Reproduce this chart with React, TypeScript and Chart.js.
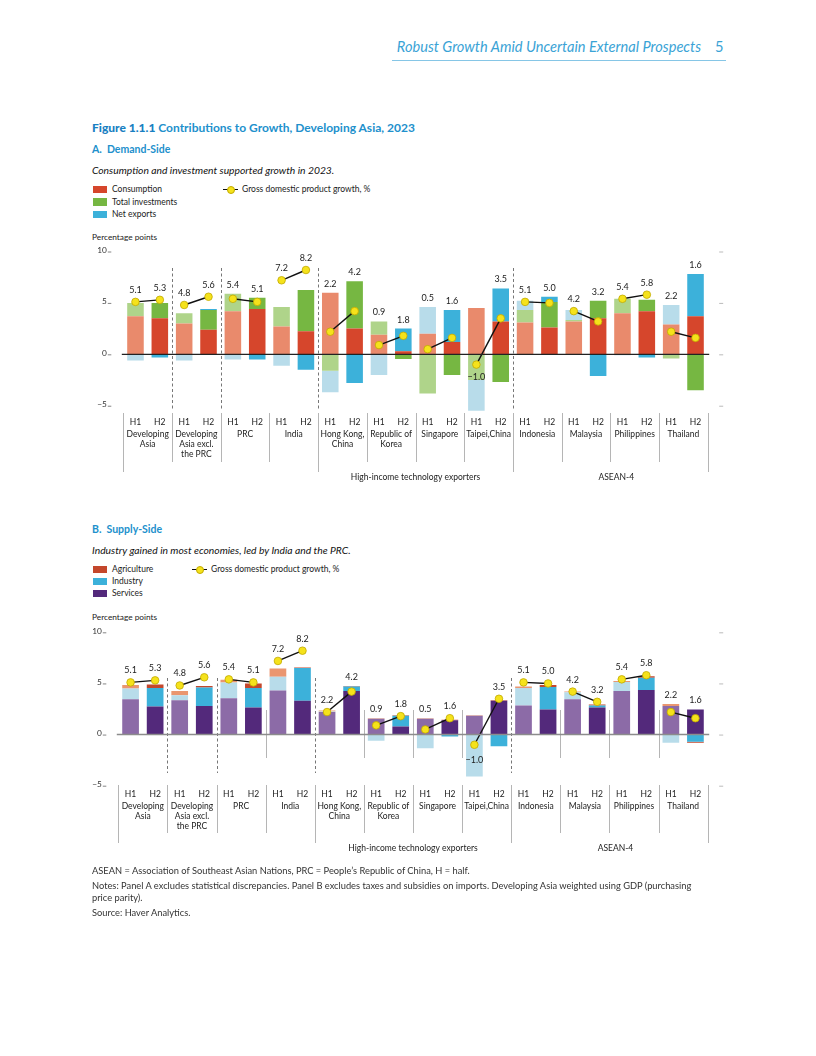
import React, { useEffect, useRef } from "react";
import { Chart, registerables } from "chart.js";

Chart.register(...registerables);

const FONT = 'Lato, "Open Sans", sans-serif';

// ---------- shared categories ----------
const economies: string[][] = [
  ["Developing", "Asia"],
  ["Developing", "Asia excl.", "the PRC"],
  ["PRC"],
  ["India"],
  ["Hong Kong,", "China"],
  ["Republic of", "Korea"],
  ["Singapore"],
  ["Taipei,China"],
  ["Indonesia"],
  ["Malaysia"],
  ["Philippines"],
  ["Thailand"],
];
const halves = ["H1", "H2"];
const barLabels = economies.flatMap((e) => halves.map((h) => e.join(" ") + " " + h));
const groupLabels = ["High-income technology exporters", "ASEAN-4"];
const yTicks = [10, 5, 0, -5];

// ---------- Panel A: demand side ----------
const consumption = [3.7, 3.5, 3.0, 2.4, 4.2, 4.4, 2.7, 2.25, 6.0, 2.5, 1.9, 0.3, 2.0, 1.2, 4.5, 3.2, 3.1, 2.6, 3.2, 3.5, 4.0, 4.2, 2.9, 3.7];
const investment = [1.3, 1.5, 1.0, 1.9, 1.7, 1.1, 1.9, 4.0, -1.6, 4.6, 1.3, -0.45, -3.8, -2.0, -2.5, -2.7, 1.2, 2.5, 0.15, 1.7, 1.4, 1.1, -0.4, -3.5];
const netExports = [-0.6, -0.3, -0.6, 0.1, -0.5, -0.5, -1.1, -1.5, -2.1, -2.8, -2.0, 2.2, 2.6, 3.1, -3.0, 3.2, 0.9, 0.5, 0.95, -2.1, -0.1, -0.3, 1.9, 4.1];
const gdpA = [5.1, 5.3, 4.8, 5.6, 5.4, 5.1, 7.2, 8.2, 2.2, 4.2, 0.9, 1.8, 0.5, 1.6, -1.0, 3.5, 5.1, 5.0, 4.2, 3.2, 5.4, 5.8, 2.2, 1.6];

// ---------- Panel B: supply side ----------
const services = [3.45, 2.75, 3.35, 2.8, 3.55, 2.65, 4.3, 3.3, 2.2, 4.25, 1.55, 0.8, 1.55, 1.4, 1.85, 3.3, 2.85, 2.45, 3.45, 2.65, 4.25, 4.35, 2.8, 2.45];
const industry = [1.05, 1.8, 0.5, 1.8, 1.55, 1.9, 1.35, 3.2, 0.05, 0.45, -0.6, 1.05, -1.35, -0.2, -4.1, -1.15, 1.7, 2.2, 0.7, 0.2, 0.9, 1.2, -0.8, -0.7];
const agriculture = [0.35, 0.35, 0.4, 0.15, 0.25, 0.45, 0.8, 0.05, 0.1, 0.05, 0.05, 0.05, 0.05, 0.05, 0.05, 0.05, 0.15, 0.2, 0.05, 0.1, 0.1, 0.15, 0.2, -0.1];
const gdpB = [5.1, 5.3, 4.8, 5.6, 5.4, 5.1, 7.2, 8.2, 2.2, 4.2, 0.9, 1.8, 0.5, 1.6, -1.0, 3.5, 5.1, 5.0, 4.2, 3.2, 5.4, 5.8, 2.2, 1.6];

type Series = { label: string; data: number[]; light: string; dark: string };

const seriesA: Series[] = [
  { label: "Consumption", data: consumption, light: "#e98a6c", dark: "#d6462c" },
  { label: "Total investments", data: investment, light: "#afd48a", dark: "#76b742" },
  { label: "Net exports", data: netExports, light: "#b8dcea", dark: "#3cb1da" },
];
const seriesB: Series[] = [
  { label: "Services", data: services, light: "#8c6ba7", dark: "#53297b" },
  { label: "Industry", data: industry, light: "#b8dcea", dark: "#3cb1da" },
  { label: "Agriculture", data: agriculture, light: "#ea9670", dark: "#c4472c" },
];

type PanelCfg = {
  top: number;
  padding: { left: number; right: number; top: number; bottom: number };
  yMin: number;
  yMax: number;
  series: Series[];
  gdp: number[];
  dashed: number[];
  dashTop: number;
  dashBottom: number;
  innerSolid: number[];
  innerTop: number;
  innerBottom: number;
  sepTop: number;
  sepShort: number;
  sepLong: number;
  halfY: number;
  nameY0: number;
  groupY: number;
  zeroColor: string;
  zeroWidth: number;
  negOffset: number;
};

const CW = 645;
const CH = 250;

function makeOverlay(cfg: PanelCfg) {
  const boundary = (chart: any, k: number) => {
    const a = chart.chartArea;
    const x = chart.scales.x;
    if (k <= 0) return a.left;
    if (k >= economies.length) return a.right;
    return (x.getPixelForValue(2 * k - 1) + x.getPixelForValue(2 * k)) / 2;
  };
  return {
    id: "overlay",
    beforeDatasetsDraw(chart: any) {
      const ctx = chart.ctx as CanvasRenderingContext2D;
      ctx.save();
      ctx.strokeStyle = "#777";
      ctx.lineWidth = 1;
      ctx.setLineDash([3, 2.5]);
      cfg.dashed.forEach((k) => {
        const bx = Math.round(boundary(chart, k)) + 0.5;
        ctx.beginPath();
        ctx.moveTo(bx, cfg.dashTop);
        ctx.lineTo(bx, cfg.dashBottom);
        ctx.stroke();
      });
      ctx.setLineDash([]);
      ctx.strokeStyle = "#b5b5b5";
      cfg.innerSolid.forEach((k) => {
        const bx = Math.round(boundary(chart, k)) + 0.5;
        ctx.beginPath();
        ctx.moveTo(bx, cfg.innerTop);
        ctx.lineTo(bx, cfg.innerBottom);
        ctx.stroke();
      });
      ctx.restore();
    },
    afterDatasetsDraw(chart: any) {
      const ctx = chart.ctx as CanvasRenderingContext2D;
      const a = chart.chartArea;
      const y = chart.scales.y;
      ctx.save();
      ctx.strokeStyle = cfg.zeroColor;
      ctx.lineWidth = cfg.zeroWidth;
      const zy = y.getPixelForValue(0);
      ctx.beginPath();
      ctx.moveTo(a.left - 1.5, zy);
      ctx.lineTo(a.right + 1.5, zy);
      ctx.stroke();
      ctx.restore();
    },
    afterDraw(chart: any) {
      const ctx = chart.ctx as CanvasRenderingContext2D;
      const a = chart.chartArea;
      const x = chart.scales.x;
      const y = chart.scales.y;
      ctx.save();
      // y ticks left
      ctx.font = `8.3px ${FONT}`;
      ctx.fillStyle = "#333";
      ctx.textAlign = "right";
      ctx.textBaseline = "alphabetic";
      yTicks.forEach((t) => {
        const ty = y.getPixelForValue(t);
        ctx.fillText(t < 0 ? "\u2212" + Math.abs(t) : String(t), a.left - 16.5, ty + 1.5);
        ctx.strokeStyle = "#666";
        ctx.lineWidth = 0.8;
        ctx.beginPath();
        ctx.moveTo(a.left - 15.5, ty + 0.5);
        ctx.lineTo(a.left - 12, ty + 0.5);
        ctx.stroke();
        // right dashes
        ctx.strokeStyle = "#aaa";
        ctx.beginPath();
        ctx.moveTo(a.right + 11.5, ty + 0.5);
        ctx.lineTo(a.right + 15.5, ty + 0.5);
        ctx.stroke();
      });
      // separators in label area
      ctx.strokeStyle = "#b5b5b5";
      ctx.lineWidth = 1;
      for (let k = 0; k <= economies.length; k++) {
        const bx = Math.round(boundary(chart, k)) + 0.5;
        const long = k === 0 || k === 4 || k === 8 || k === economies.length;
        ctx.beginPath();
        ctx.moveTo(bx, cfg.sepTop);
        ctx.lineTo(bx, long ? cfg.sepLong : cfg.sepShort);
        ctx.stroke();
      }
      // H1 / H2 + economy names
      ctx.fillStyle = "#222";
      ctx.textAlign = "center";
      ctx.textBaseline = "middle";
      ctx.font = `8.5px ${FONT}`;
      barLabels.forEach((_, i) => {
        ctx.fillText(halves[i % 2], x.getPixelForValue(i), cfg.halfY);
      });
      economies.forEach((lines, e) => {
        const cx = (x.getPixelForValue(2 * e) + x.getPixelForValue(2 * e + 1)) / 2;
        lines.forEach((ln, j) => ctx.fillText(ln, cx, cfg.nameY0 + j * 10));
      });
      // group labels
      const g1 = (boundary(chart, 4) + boundary(chart, 8)) / 2;
      const g2 = (boundary(chart, 8) + boundary(chart, 12)) / 2 + 6;
      ctx.fillText(groupLabels[0], g1, cfg.groupY);
      ctx.fillText(groupLabels[1], g2, cfg.groupY);
      // GDP value labels
      ctx.font = `9px ${FONT}`;
      ctx.fillStyle = "#222";
      cfg.gdp.forEach((v, i) => {
        const px = x.getPixelForValue(i);
        const dy = y.getPixelForValue(v);
        const pos = cfg.series.reduce((s, se) => s + Math.max(0, se.data[i]), 0);
        const by = y.getPixelForValue(pos);
        const ly = v >= 0 ? Math.min(dy - 12, by - 9) : dy + cfg.negOffset;
        const txt = (v < 0 ? "\u2212" : "") + Math.abs(v).toFixed(1);
        ctx.fillText(txt, px, ly);
      });
      ctx.restore();
    },
  };
}

function Panel({ cfg }: { cfg: PanelCfg }) {
  const ref = useRef<HTMLCanvasElement>(null);
  useEffect(() => {
    const barSets = cfg.series.map((s) => ({
      type: "bar" as const,
      label: s.label,
      data: s.data,
      backgroundColor: s.data.map((_, i) => (i % 2 === 0 ? s.light : s.dark)),
      stack: "bars",
      order: 1,
      barPercentage: 0.68,
      categoryPercentage: 1,
      borderWidth: 0,
    }));
    const line: any = {
      type: "line",
      label: "Gross domestic product growth, %",
      data: cfg.gdp,
      stack: "gdp",
      order: 0,
      borderColor: "#111",
      borderWidth: 1.4,
      tension: 0,
      pointRadius: 3.8,
      pointHoverRadius: 3.8,
      pointBackgroundColor: "#f5e21b",
      pointBorderColor: "#c2aa00",
      pointBorderWidth: 0.8,
      segment: {
        borderColor: (c: any) => (c.p0DataIndex % 2 === 0 ? "#111" : "rgba(0,0,0,0)"),
      },
    };
    const chart = new Chart(ref.current as HTMLCanvasElement, {
      type: "bar",
      data: { labels: barLabels, datasets: [...barSets, line] as any },
      options: {
        responsive: false,
        animation: false,
        layout: { padding: cfg.padding },
        plugins: { legend: { display: false }, tooltip: { enabled: false } },
        scales: {
          x: { type: "category", stacked: true, display: false, offset: true },
          y: { stacked: true, display: false, min: cfg.yMin, max: cfg.yMax },
        },
      },
      plugins: [makeOverlay(cfg)],
    });
    return () => chart.destroy();
  }, []);
  return (
    <canvas
      ref={ref}
      width={CW}
      height={CH}
      style={{ position: "absolute", left: 88, top: cfg.top, width: CW, height: CH }}
    />
  );
}

const cfgA: PanelCfg = {
  top: 240,
  padding: { left: 35.3, right: 25.3, top: 11.5, bottom: 78.1 },
  yMin: -5.6,
  yMax: 10,
  series: seriesA,
  gdp: gdpA,
  dashed: [1, 2, 4, 8],
  dashTop: 28,
  dashBottom: 170,
  innerSolid: [],
  innerTop: 0,
  innerBottom: 0,
  sepTop: 173,
  sepShort: 222,
  sepLong: 232,
  halfY: 182,
  nameY0: 194,
  groupY: 237,
  zeroColor: "#222",
  zeroWidth: 1.2,
  negOffset: 12,
};

const cfgB: PanelCfg = {
  top: 620,
  padding: { left: 30.3, right: 25.3, top: 12.3, bottom: 84.3 },
  yMin: -5,
  yMax: 10,
  series: seriesB,
  gdp: gdpB,
  dashed: [1, 2, 4, 8],
  dashTop: 58,
  dashBottom: 153,
  innerSolid: [3, 5, 6, 7, 9, 10, 11],
  innerTop: 90,
  innerBottom: 138,
  sepTop: 165,
  sepShort: 213,
  sepLong: 223,
  halfY: 174,
  nameY0: 186,
  groupY: 228,
  zeroColor: "#8c8c8c",
  zeroWidth: 1.6,
  negOffset: 15,
};

const abs = (left: number, top: number, extra: React.CSSProperties = {}): React.CSSProperties => ({
  position: "absolute",
  left,
  top,
  whiteSpace: "nowrap",
  fontFamily: FONT,
  lineHeight: 1,
  ...extra,
});

function LegendBox({ left, top, color, label }: { left: number; top: number; color: string; label: string }) {
  return (
    <div style={abs(left, top, { fontSize: 8.5, color: "#222", display: "flex", alignItems: "center" })}>
      <span style={{ display: "inline-block", width: 14, height: 7.5, background: color, marginRight: 5 }} />
      <span>{label}</span>
    </div>
  );
}

function GdpLegend({ left, top }: { left: number; top: number }) {
  return (
    <div style={abs(left, top, { fontSize: 8.5, color: "#222", display: "flex", alignItems: "center" })}>
      <span style={{ position: "relative", display: "inline-block", width: 15, height: 8, marginRight: 4 }}>
        <span style={{ position: "absolute", left: 0, top: 3.3, width: 15, height: 1.4, background: "#111" }} />
        <span
          style={{
            position: "absolute",
            left: 3.8,
            top: 0.3,
            width: 6.2,
            height: 6.2,
            borderRadius: "50%",
            background: "#f5e21b",
            border: "0.8px solid #c2aa00",
          }}
        />
      </span>
      <span>Gross domestic product growth, %</span>
    </div>
  );
}

export default function App() {
  const blue = "#2190cc";
  return (
    <div style={{ position: "absolute", left: 0, top: 0, width: 816, height: 1056, background: "#fff", overflow: "hidden" }}>
      {/* page header */}
      <div style={abs(0, 39.5, { width: 701, textAlign: "right", fontSize: 14.6, fontStyle: "italic", color: "#3aa3d6" })}>
        Robust Growth Amid Uncertain External Prospects
      </div>
      <div style={abs(715, 39.5, { fontSize: 14.6, color: "#3aa3d6" })}>5</div>
      <div style={{ position: "absolute", left: 392, top: 60, width: 334, height: 1, background: "#86c6e6" }} />

      {/* figure title */}
      <div style={abs(92, 121.5, { fontSize: 12, fontWeight: 700, color: blue })}>
        <span style={{ fontWeight: 900, color: "#1880c2" }}>Figure 1.1.1</span>
        <span>{"  "}Contributions to Growth, Developing Asia, 2023</span>
      </div>

      {/* Panel A */}
      <div style={abs(92, 144, { fontSize: 10.5, fontWeight: 700, color: blue })}>A.&nbsp; Demand-Side</div>
      <div style={abs(92, 164.5, { fontSize: 10.3, fontStyle: "italic", color: "#111" })}>
        Consumption and investment supported growth in 2023.
      </div>
      <LegendBox left={93} top={185} color={seriesA[0].dark} label="Consumption" />
      <LegendBox left={93} top={197.5} color={seriesA[1].dark} label="Total investments" />
      <LegendBox left={93} top={210} color={seriesA[2].dark} label="Net exports" />
      <GdpLegend left={223} top={185} />
      <div style={abs(92, 233, { fontSize: 8.3, color: "#222" })}>Percentage points</div>
      <Panel cfg={cfgA} />

      {/* Panel B */}
      <div style={abs(92, 524, { fontSize: 10.5, fontWeight: 700, color: blue })}>B.&nbsp; Supply-Side</div>
      <div style={abs(92, 544.5, { fontSize: 10.3, fontStyle: "italic", color: "#111" })}>
        Industry gained in most economies, led by India and the PRC.
      </div>
      <LegendBox left={93} top={565} color={seriesB[2].dark} label="Agriculture" />
      <LegendBox left={93} top={577} color={seriesB[1].dark} label="Industry" />
      <LegendBox left={93} top={589} color={seriesB[0].dark} label="Services" />
      <GdpLegend left={192} top={565} />
      <div style={abs(92, 613, { fontSize: 8.3, color: "#222" })}>Percentage points</div>
      <Panel cfg={cfgB} />

      {/* notes */}
      <div style={abs(92, 866, { fontSize: 9.3, color: "#333" })}>
        ASEAN = Association of Southeast Asian Nations, PRC = People’s Republic of China, H = half.
      </div>
      <div style={abs(92, 881, { fontSize: 9.3, color: "#333" })}>
        Notes: Panel A excludes statistical discrepancies. Panel B excludes taxes and subsidies on imports. Developing Asia weighted using GDP (purchasing
      </div>
      <div style={abs(92, 893, { fontSize: 9.3, color: "#333" })}>price parity).</div>
      <div style={abs(92, 908, { fontSize: 9.3, color: "#333" })}>Source: Haver Analytics.</div>
    </div>
  );
}
